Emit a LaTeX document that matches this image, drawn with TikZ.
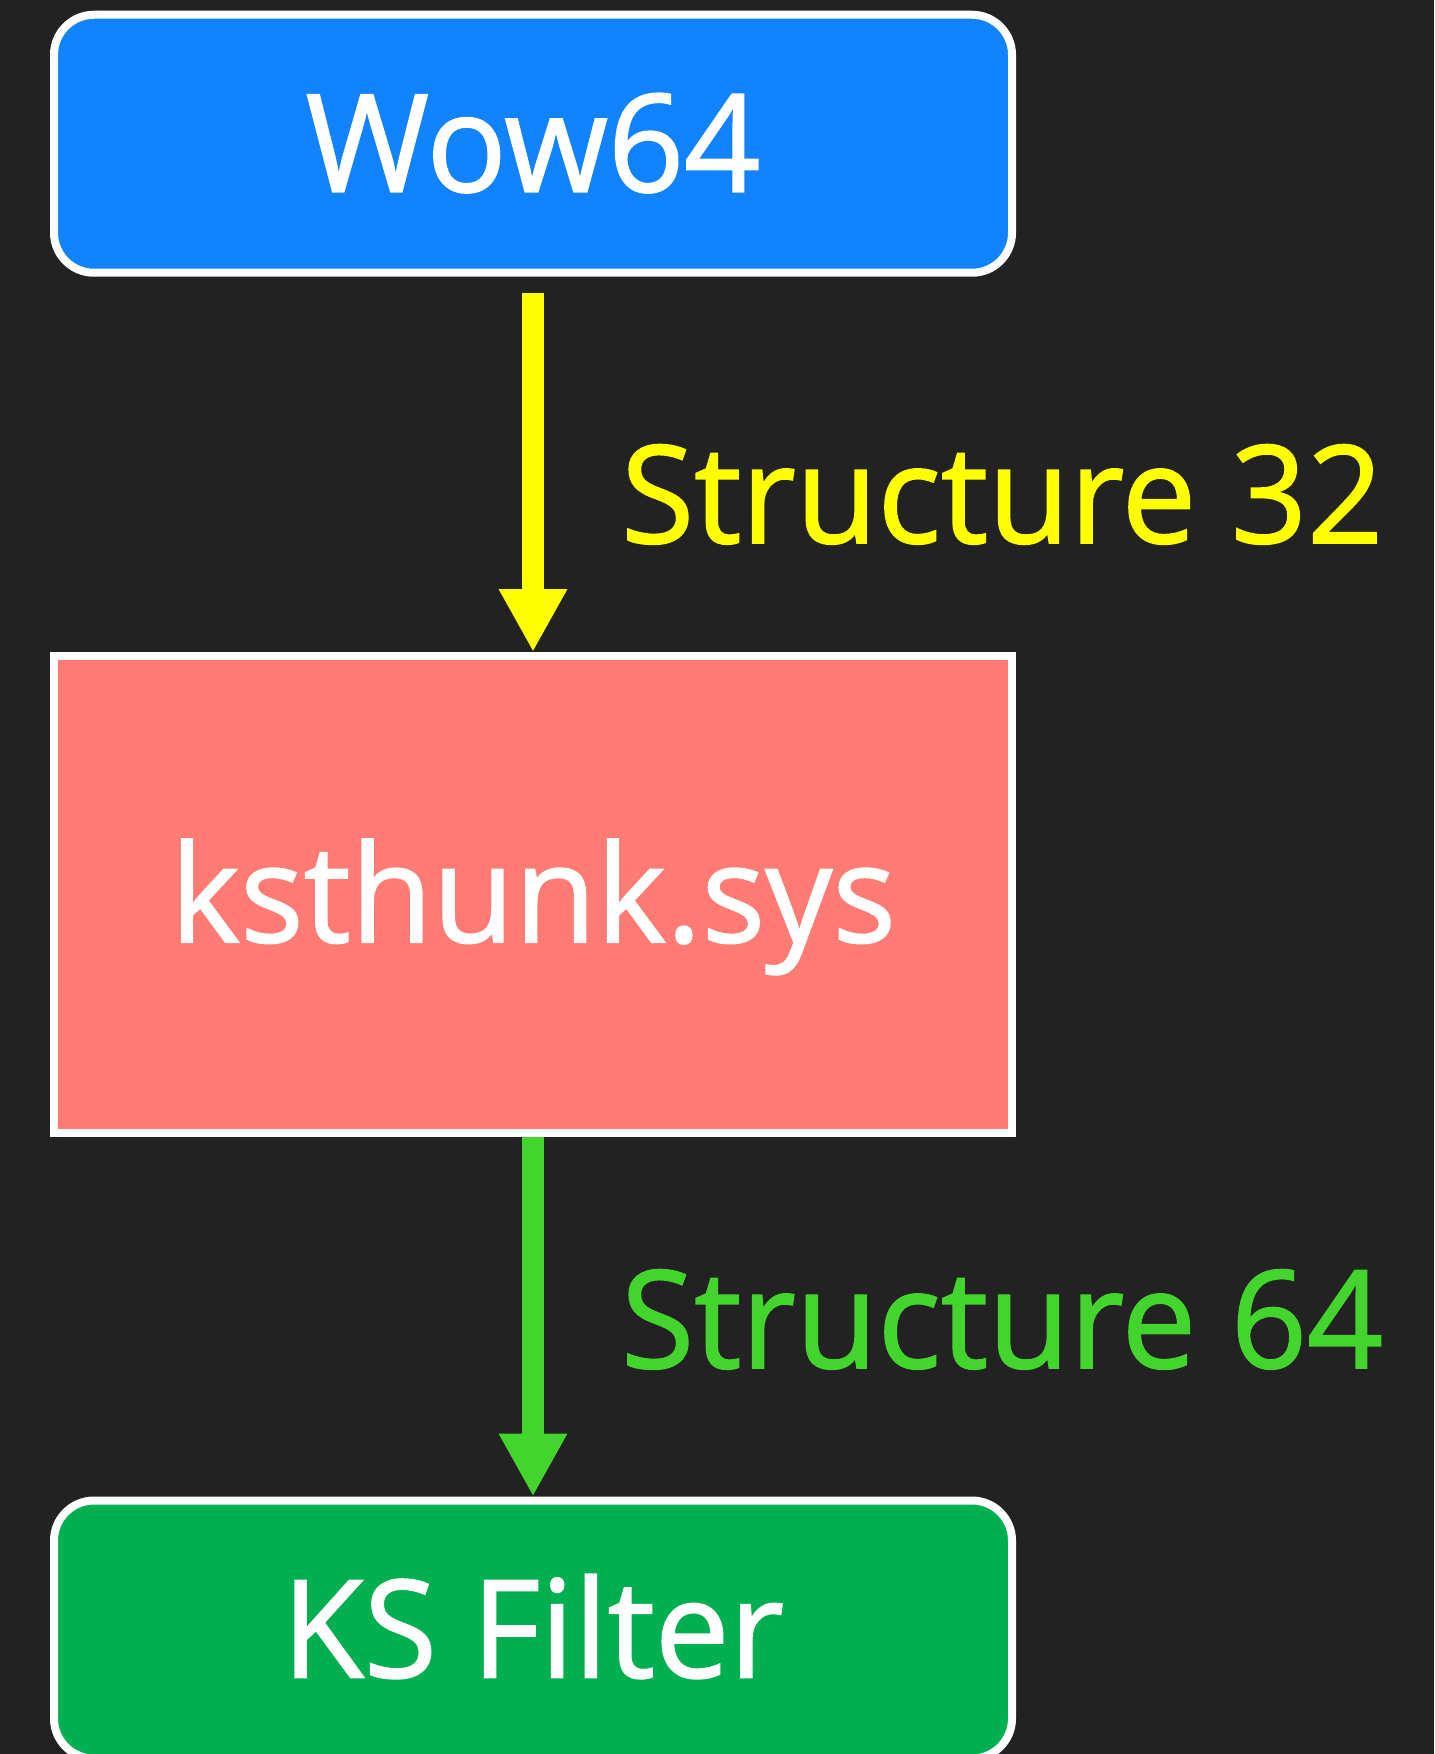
\documentclass[tikz,border=0pt]{standalone}
\usepackage{fontspec}
\setmainfont{Open Sans}[FakeStretch=0.98, FakeBold=1.2]
\usetikzlibrary{arrows.meta}
\definecolor{bg}{HTML}{222222}
\definecolor{wowblue}{HTML}{1283FF}
\definecolor{salmon}{HTML}{FF7B73}
\definecolor{ksgreen}{HTML}{00AF50}
\definecolor{arrowyellow}{HTML}{FFFF00}
\definecolor{arrowgreen}{HTML}{44D42E}
\tikzset{
  box/.style={draw=white, line width=4pt, minimum width=479pt, inner sep=0pt,
    text=white, font=\fontsize{68}{80}\selectfont, text height=48pt, text depth=0pt},
  roundbox/.style={box, rounded corners=20pt, minimum height=129pt},
  squarebox/.style={box, minimum height=238.25pt},
  flow/.style={line width=11pt, -{Triangle[length=31.5pt, width=32pt]}},
  flowlabel/.style={anchor=base west, font=\fontsize{68}{80}\selectfont}
}
\begin{document}
\begin{tikzpicture}[x=0.5pt, y=-0.5pt]
  % dark canvas
  \useasboundingbox[fill=bg] (0,0) rectangle (1434,1754);

  % boxes
  \node[roundbox, fill=wowblue] (wow) at (533,143.75) {Wow64};
  \node[squarebox, fill=salmon] (ks) at (533,894.25) {ksthunk.sys};
  \node[roundbox, fill=ksgreen] (filter) at (533,1629.5) {KS Filter};

  % connectors
  \draw[flow, draw=arrowyellow, fill=arrowyellow] ([yshift=-8pt]wow.south) -- (ks.north);
  \draw[flow, draw=arrowgreen, fill=arrowgreen] (ks.south) -- (filter.north);

  % connector labels
  \node[flowlabel, text=arrowyellow] (lab32) at (614,543) {Structure 32};
  \node[flowlabel, text=arrowgreen] (lab64) at (614,1368) {Structure 64};
\end{tikzpicture}
\end{document}
